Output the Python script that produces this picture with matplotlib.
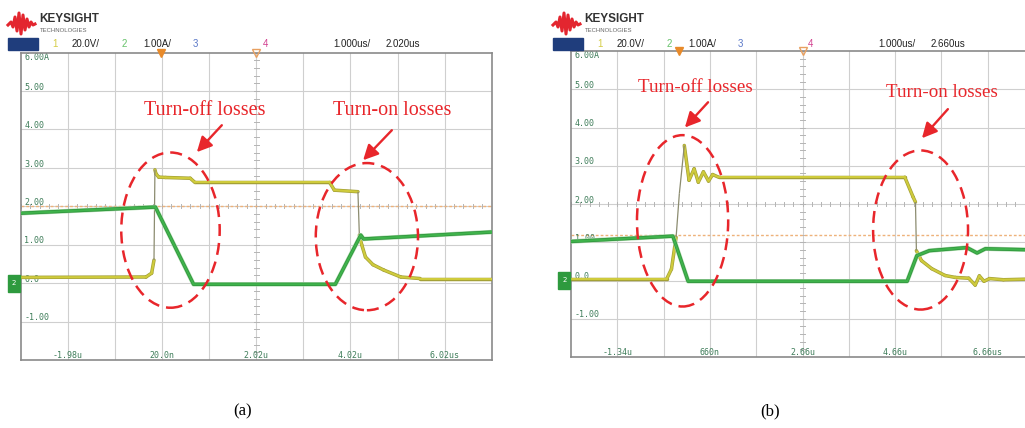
import matplotlib.pyplot as plt
import matplotlib.patheffects as pe
from matplotlib.patches import Ellipse, Rectangle
from matplotlib.collections import LineCollection
from matplotlib.transforms import blended_transform_factory

W, H = 1025, 428

# --- scope capture (a): 1 us/div, centre 2.02 us ---
a_center = 2.02
a_timebase = '2.020us'
a_xlabels = ['-1.98u', '20.0n', '2.02u', '4.02u', '6.02us']
a_trig_level = 2.0
a_v_t = [-2.98, -0.32, -0.20, -0.15, -0.13, -0.11, -0.05, 0.10, 0.62, 0.72, 3.58, 3.68, 4.18,
         4.21, 4.26, 4.34, 4.50, 4.73, 5.09, 5.50, 7.02]
a_v = [0.15, 0.16, 0.26, 0.60, 2.95, 2.85, 2.76, 2.75, 2.73, 2.62, 2.62, 2.42, 2.38,
       1.25, 1.00, 0.68, 0.48, 0.34, 0.16, 0.12, 0.12]
a_i_t = [-2.98, -0.12, 0.69, 3.70, 4.24, 4.30, 7.02]
a_i = [1.82, 1.98, -0.03, -0.03, 1.25, 1.15, 1.33]

# --- scope capture (b): 1 us/div, centre 2.66 us ---
b_center = 2.66
b_timebase = '2.660us'
b_xlabels = ['-1.34u', '660n', '2.66u', '4.66u', '6.66us']
b_trig_level = 1.2
b_v_t = [-2.34, -0.27, -0.17, -0.07, 0.0, 0.107, 0.21, 0.32, 0.41, 0.52, 0.63, 0.72, 0.85,
         4.87, 5.05, 5.10, 5.12, 5.23, 5.45, 5.74, 5.96, 6.25, 6.39, 6.48, 6.58, 6.70,
         7.00, 7.66]
b_v = [0.05, 0.05, 0.30, 1.13, 2.27, 3.53, 2.62, 2.92, 2.57, 2.84, 2.60, 2.77, 2.70,
       2.70, 2.18, 2.05, 0.78, 0.52, 0.31, 0.13, 0.08, 0.06, -0.12, 0.12, -0.02, 0.05,
       0.02, 0.04]
b_i_t = [-2.34, -0.14, 0.19, 4.92, 5.13, 5.40, 6.21, 6.43, 6.61, 7.66]
b_i = [1.02, 1.16, -0.02, -0.02, 0.65, 0.78, 0.86, 0.72, 0.83, 0.80]

ylabels = ['6.00A', '5.00', '4.00', '3.00', '2.00', '1.00', '0.0', '-1.00']
ylevels = [6, 5, 4, 3, 2, 1, 0, -1]

YEL, YEL_EDGE = '#cfcb3c', '#a3a036'
GRN, GRN_EDGE = '#3fb34b', '#2b8a39'
LBL = '#3f7d5a'
GRID = '#cfcfcf'
RED = '#e8262b'


def fpx(x, y):
    """figure fraction from pixel position (origin top-left)"""
    return x / W, 1 - y / H


def yellow_trace(ax, t, v):
    # fast edges are drawn as a thin grey stroke, like on the scope screen
    segs = [[(t[k], v[k]), (t[k + 1], v[k + 1])] for k in range(len(t) - 1)]
    steep = [abs(v[k + 1] - v[k]) / max(t[k + 1] - t[k], 1e-9) > 11 for k in range(len(t) - 1)]
    flat = [s for s, f in zip(segs, steep) if not f]
    fast = [s for s, f in zip(segs, steep) if f]
    lc = LineCollection(flat, colors=YEL, linewidths=1.5, zorder=4, capstyle='round',
                        path_effects=[pe.Stroke(linewidth=2.5, foreground=YEL_EDGE),
                                      pe.Normal()])
    ax.add_collection(lc)
    ax.add_collection(LineCollection(fast, colors='#8c8c70', linewidths=0.9, zorder=4))


def draw_panel(fig, rect_px, center, xlabels, vt, v, it, i, trig, header_x, timebase,
               ellipses, notes, note_size):
    x0, y0, x1, y1 = rect_px
    ax = fig.add_axes([x0 / W, 1 - y1 / H, (x1 - x0) / W, (y1 - y0) / H])
    ax.set_xlim(center - 5, center + 5)
    ax.set_ylim(-2, 6)
    ax.set_xticks([])
    ax.set_yticks([])
    for s in ax.spines.values():
        s.set_color('#8a8a8a')
        s.set_linewidth(1.2)

    # graticule
    for k in range(-4, 5):
        ax.axvline(center + k, color=GRID, lw=0.8, zorder=1)
    for k in range(-1, 6):
        ax.axhline(k, color=GRID, lw=0.8, zorder=1)
    for k in range(-25, 26):
        ax.plot([center + k * 0.2] * 2, [1.95, 2.05], color='#b4b4b4', lw=0.7, zorder=1)
    for k in range(-20, 21):
        ax.plot([center - 0.05, center + 0.05], [2 + k * 0.2] * 2, color='#b4b4b4', lw=0.7,
                zorder=1)

    # trigger level
    ax.axhline(trig, color='#eeb27a', lw=1.0, ls=(0, (2, 1.5)), zorder=2)

    # axis labels drawn inside the screen
    for lab, lv in zip(ylabels, ylevels):
        yy = lv - 0.13 if lv == 6 else lv + 0.1
        ax.text(center - 4.92, yy, lab, fontsize=6, family='DejaVu Sans Mono', color=LBL,
                va='center', ha='left', zorder=2)
    for k, lab in zip([-4, -2, 0, 2, 4], xlabels):
        ax.text(center + k, -1.87, lab, fontsize=6, family='DejaVu Sans Mono', color=LBL,
                ha='center', va='center', zorder=2)

    # traces
    yellow_trace(ax, vt, v)
    ax.plot(it, i, color=GRN, lw=1.6, zorder=5, solid_joinstyle='round',
            path_effects=[pe.Stroke(linewidth=3.2, foreground='#a8dca8'),
                          pe.Stroke(linewidth=2.4, foreground=GRN_EDGE), pe.Normal()])

    # markers on the frame
    ax.plot([0], [6], marker='v', ms=6, color='#e88a2a', clip_on=False, zorder=6)
    ax.plot([center], [6], marker='v', ms=6, mfc='none', mec='#e8a060', clip_on=False,
            zorder=6)
    bt = blended_transform_factory(ax.transAxes, ax.transData)
    ax.add_patch(Rectangle((-0.027, -0.22), 0.025, 0.44, transform=bt, color='#2e9a3e',
                           clip_on=False, zorder=6))
    ax.text(-0.0145, 0, '2', transform=bt, fontsize=5, color='white', ha='center',
            va='center', zorder=7, clip_on=False)

    # loss regions
    for (ec, ey, ew, eh) in ellipses:
        ax.add_patch(Ellipse((ec, ey), ew, eh, fill=False, ec=RED, lw=1.8,
                             ls=(0, (4.8, 2.8)), zorder=8))
    for (label, tx, ty, ax_t, ay_t, hx, hy) in notes:
        ax.text(tx, ty, label, fontsize=note_size, family='Liberation Serif', color=RED,
                ha='center', va='center', zorder=9)
        ax.annotate('', xy=(hx, hy), xytext=(ax_t, ay_t),
                    arrowprops=dict(arrowstyle='-|>,head_length=0.9,head_width=0.45',
                                    color=RED, lw=1.7, shrinkA=0, shrinkB=0),
                    zorder=9)

    # header: logo and channel settings
    lx = header_x
    zx = [0, 3, 5, 7, 9, 11, 13, 15, 17, 19, 21, 23, 25, 27]
    zy = [25, 22, 27, 17, 31, 13, 34, 15, 30, 19, 27, 22, 25, 24]
    pts = [fpx(lx + a, b) for a, b in zip(zx, zy)]
    fig.lines.append(plt.Line2D([p[0] for p in pts], [p[1] for p in pts],
                                transform=fig.transFigure, color='#e3262f', lw=2.2,
                                solid_joinstyle='round'))
    fig.text(*fpx(lx + 31, 19), 'KEYSIGHT', fontsize=8.5, weight='bold',
             family='Liberation Sans', color='#333333', va='center')
    fig.text(*fpx(lx + 32, 30), 'TECHNOLOGIES', fontsize=4.3, family='Liberation Sans',
             color='#666666', va='center')
    bx, by = fpx(lx, 50)
    fig.patches.append(Rectangle((bx, by), 30 / W, 12 / H, transform=fig.transFigure,
                                 color='#1f3d7c'))
    hy = 44
    items = [(44, '1', '#d4cc44'), (64, '20.0V/', '#222222'), (114, '2', '#66c26a'),
             (135, '1.00A/', '#222222'), (185, '3', '#5a78c8'), (255, '4', '#d23f8e'),
             (325, '1.000us/', '#222222'), (378, timebase, '#222222')]
    for dx, s, c in items:
        fig.text(*fpx(lx + dx, hy), s, fontsize=7, family='Liberation Sans', color=c,
                 va='center')
    return ax


plt.rcParams['font.family'] = ['DejaVu Sans']
fig = plt.figure(figsize=(W / 100, H / 100), dpi=100)

draw_panel(fig, (20.7, 52.6, 491.7, 360), a_center, a_xlabels, a_v_t, a_v, a_i_t, a_i,
           a_trig_level, 8, a_timebase,
           ellipses=[(0.20, 1.38, 2.09, 4.04), (4.37, 1.21, 2.17, 3.83)],
           notes=[('Turn-off losses', 0.92, 4.5, 1.29, 4.11, 0.76, 3.41),
                  ('Turn-on losses', 4.90, 4.5, 4.90, 3.98, 4.29, 3.20)],
           note_size=14.5)

draw_panel(fig, (571, 51, 1034, 357), b_center, b_xlabels, b_v_t, b_v, b_i_t, b_i,
           b_trig_level, 553, b_timebase,
           ellipses=[(0.07, 1.56, 1.97, 4.48), (5.21, 1.32, 2.05, 4.16)],
           notes=[('Turn-off losses', 0.34, 5.05, 0.62, 4.66, 0.12, 4.0),
                  ('Turn-on losses', 5.67, 4.92, 5.80, 4.48, 5.24, 3.72)],
           note_size=13.7)

fig.text(*fpx(243, 411), '(a)', fontsize=12, family='Liberation Serif', ha='center',
         va='center')
fig.text(*fpx(770, 411), '(b)', fontsize=12, family='Liberation Serif', ha='center',
         va='center')

fig.savefig('out.png', dpi=100)
